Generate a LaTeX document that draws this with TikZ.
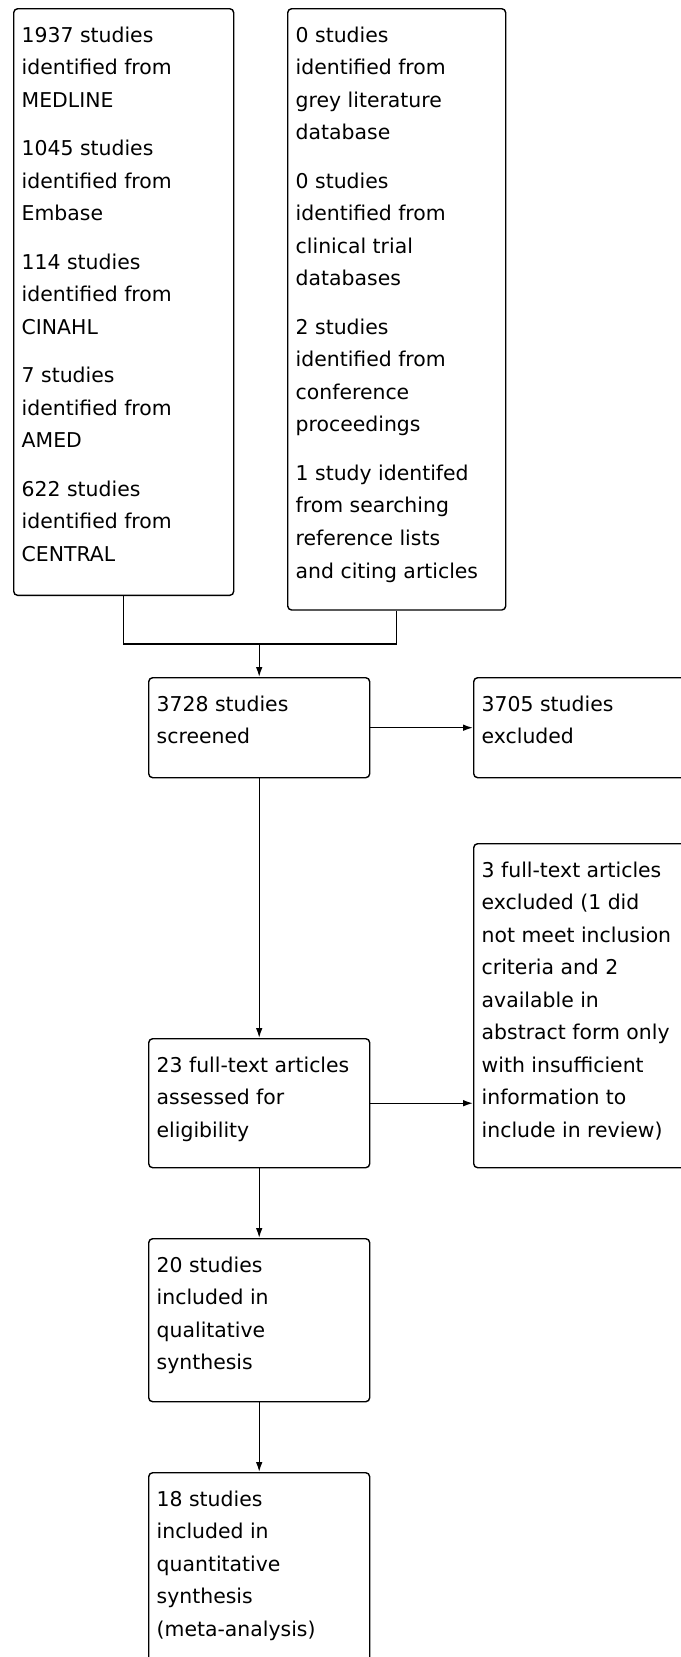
\documentclass[tikz,border=0pt]{standalone}
\usepackage{fontspec}
\setmainfont{DejaVu Sans}
\usetikzlibrary{arrows.meta}
\newcommand\boxtxt[3]{\parbox[c][#2][t]{#1}{\raggedright\rule{0pt}{25pt}#3}}
\begin{document}
\begin{tikzpicture}[x=0.75pt,y=-0.75pt,
  flowbox/.style={draw=black, line width=1.05pt, rounded corners=3pt, anchor=north west,
    inner xsep=6pt, inner ysep=0pt, font=\fontsize{15.3}{24.4}\selectfont},
  link/.style={line width=1.05pt, draw=black},
  arr/.style={link, -{Latex[length=7.5pt,width=5pt]}}]
\useasboundingbox (0,0) rectangle (681,1657);
\fill[white] (0,0) rectangle (681,1657);
\clip (0,0) rectangle (681,1657);

\node[flowbox] (src1) at (13,8) {\boxtxt{153pt}{440pt}{1937 studies\\identified from\\MEDLINE\\[12pt]1045 studies\\identified from\\Embase\\[12pt]114 studies\\identified from\\CINAHL\\[12pt]7 studies\\identified from\\AMED\\[12pt]622 studies\\identified from\\CENTRAL}};

\node[flowbox] (src2) at (287,8) {\boxtxt{151.5pt}{451pt}{0 studies\\identified from\\grey literature\\database\\[12pt]0 studies\\identified from\\clinical trial\\databases\\[12pt]2 studies\\identified from\\conference\\proceedings\\[12pt]1 study identifed\\from searching\\reference lists\\and citing articles}};

\node[flowbox] (screened) at (148,677) {\boxtxt{153.75pt}{75pt}{3728 studies\\screened}};
\node[flowbox] (excl1) at (473,677) {\boxtxt{153.75pt}{75pt}{3705 studies\\excluded}};
\node[flowbox] (excl2) at (473,843) {\boxtxt{153.75pt}{243pt}{3 full-text articles\\excluded (1 did\\not meet inclusion\\criteria and 2\\available in\\abstract form only\\with insufficient\\information to\\include in review)}};
\node[flowbox] (fulltext) at (148,1038) {\boxtxt{153.75pt}{96.75pt}{23 full-text articles\\assessed for\\eligibility}};
\node[flowbox] (qual) at (148,1238) {\boxtxt{153.75pt}{122.25pt}{20 studies\\included in\\qualitative\\synthesis}};
\node[flowbox] (quant) at (148,1472) {\boxtxt{153.75pt}{156pt}{18 studies\\included in\\quantitative\\synthesis\\(meta-analysis)}};

\path (screened.north) ++(0,-33) coordinate (j);
\draw[link] (src1.south) |- (j) -| (src2.south);
\draw[arr] (j) -- (screened.north);
\draw[arr] (screened.east) -- (excl1.west);
\draw[arr] (screened.south) -- (fulltext.north);
\draw[arr] (fulltext.east) -- (fulltext.east -| excl2.west);
\draw[arr] (fulltext.south) -- (qual.north);
\draw[arr] (qual.south) -- (quant.north);
\end{tikzpicture}
\end{document}
